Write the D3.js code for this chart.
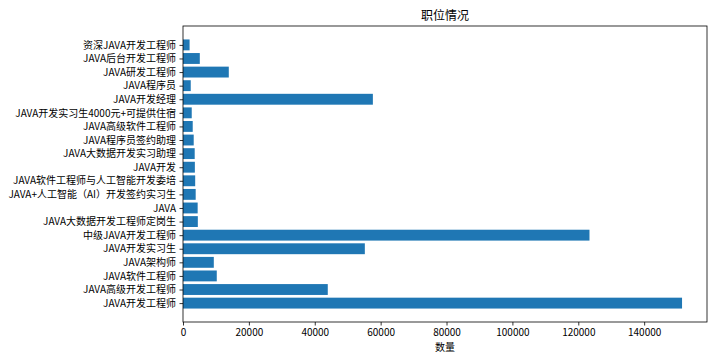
<!DOCTYPE html>
<html><head><meta charset="utf-8">
<script src="https://cdn.jsdelivr.net/npm/d3@7/dist/d3.min.js"></script>
<style>body{margin:0;background:#fff}svg{display:block}</style>
</head><body>
<svg id="c" width="720" height="360"></svg>
<script>
const categories = [
  "JAVA开发工程师","JAVA高级开发工程师","JAVA软件工程师","JAVA架构师","JAVA开发实习生",
  "中级JAVA开发工程师","JAVA大数据开发工程师定岗生","JAVA","JAVA+人工智能（AI）开发签约实习生",
  "JAVA软件工程师与人工智能开发委培","JAVA开发","JAVA大数据开发实习助理","JAVA程序员签约助理",
  "JAVA高级软件工程师","JAVA开发实习生4000元+可提供住宿","JAVA开发经理","JAVA程序员",
  "JAVA研发工程师","JAVA后台开发工程师","资深JAVA开发工程师"
];
const values = [
  151500, 43950, 10250, 9350, 55200,
  123400, 4500, 4450, 3850,
  3700, 3600, 3550, 3250,
  2950, 2650, 57640, 2350,
  13900, 5100, 2000
];
const xTicks = [0,20000,40000,60000,80000,100000,120000,140000];
const title = "职位情况";
const xLabel = "数量";

const font = "'Noto Sans CJK SC', 'DejaVu Sans', sans-serif";
const svg = d3.select("#c");
const L = 183, R = 707, T = 26, B = 322;
const maxV = d3.max(values);
const n = categories.length;
const x = d3.scaleLinear().domain([0, maxV * 1.05]).range([L, R]);
const pad = 0.05 * (n - 1 + 0.8);
const y = d3.scaleLinear().domain([-0.4 - pad, n - 1 + 0.4 + pad]).range([B, T]);
const bh = y(0) - y(0.8);

svg.append("g").selectAll("rect").data(values).join("rect")
  .attr("x", x(0))
  .attr("y", (d, i) => y(i + 0.4))
  .attr("width", d => x(d) - x(0))
  .attr("height", bh)
  .attr("fill", "#1f77b4");

const xAxis = d3.axisBottom(x).tickValues(xTicks).tickFormat(d3.format("d")).tickSize(3.5).tickPadding(3);
const gx = svg.append("g").attr("transform", `translate(0,${B})`).call(xAxis);
const yAxis = d3.axisLeft(y).tickValues(d3.range(n)).tickFormat(i => categories[i]).tickSize(3.5).tickPadding(3.5);
const gy = svg.append("g").attr("transform", `translate(${L},0)`).call(yAxis);
[gx, gy].forEach(g => {
  g.select(".domain").remove();
  g.selectAll("line").attr("stroke", "#000").attr("stroke-width", 0.8);
  g.selectAll("text").attr("font-family", font).attr("font-size", 10).attr("fill", "#000");
});

svg.append("rect").attr("x", L).attr("y", T).attr("width", R - L).attr("height", B - T)
  .attr("fill", "none").attr("stroke", "#000").attr("stroke-width", 0.8);

svg.append("text").attr("x", (L + R) / 2).attr("y", T - 6).attr("text-anchor", "middle")
  .attr("font-family", font).attr("font-size", 12).text(title);
svg.append("text").attr("x", (L + R) / 2).attr("y", 351).attr("text-anchor", "middle")
  .attr("font-family", font).attr("font-size", 10).text(xLabel);
</script>
</body></html>
